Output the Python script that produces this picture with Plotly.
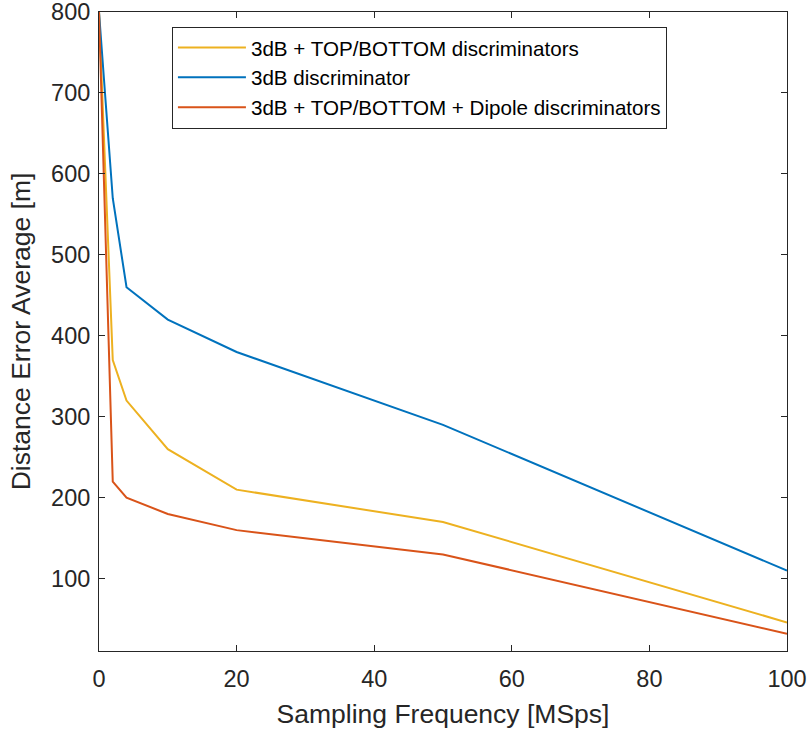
import plotly.graph_objects as go

freq = [0, 2, 4, 10, 20, 50, 100]
err_3db_tb = [800, 370, 320, 260, 210, 170, 46]
err_3db = [800, 570, 460, 420, 380, 290, 110]
err_3db_tb_dip = [800, 220, 200, 180, 160, 130, 32]

names = ["3dB + TOP/BOTTOM discriminators", "3dB discriminator",
         "3dB + TOP/BOTTOM + Dipole discriminators"]
colors = ["#EDB120", "#0072BD", "#D95319"]

fig = go.Figure()
for y, n, c in zip([err_3db_tb, err_3db, err_3db_tb_dip], names, colors):
    fig.add_trace(go.Scatter(x=freq, y=y, mode="lines", name=n,
                             line=dict(color=c, width=2)))

axcol = "#262626"
fig.update_layout(
    width=811, height=731,
    margin=dict(l=99, r=24, t=12, b=80),
    plot_bgcolor="white", paper_bgcolor="white",
    font=dict(family="Liberation Sans, Arial, sans-serif", color=axcol),
    legend=dict(x=0.106, y=0.977, xanchor="left", yanchor="top",
                bordercolor=axcol, borderwidth=1, bgcolor="white",
                font=dict(size=20.6, color="black"), itemwidth=68,
                tracegroupgap=0),
    showlegend=True,
)
fig.update_xaxes(range=[0, 100], tickvals=[0, 20, 40, 60, 80, 100],
                 showgrid=False, zeroline=False, showline=True, linecolor=axcol,
                 linewidth=1, mirror="ticks", ticks="inside", ticklen=6,
                 tickcolor=axcol, tickfont=dict(size=23.5), automargin=False,
                 ticklabelstandoff=7, ticklabeloverflow="allow",
                 title=dict(text="Sampling Frequency [MSps]", font=dict(size=26.5), standoff=13))
fig.update_yaxes(range=[10.7, 800], tickvals=[100, 200, 300, 400, 500, 600, 700, 800],
                 showgrid=False, zeroline=False, showline=True, linecolor=axcol,
                 linewidth=1, mirror="ticks", ticks="inside", ticklen=6,
                 tickcolor=axcol, tickfont=dict(size=23.5), automargin=False,
                 ticklabelstandoff=3, ticklabeloverflow="allow",
                 title=dict(text="Distance Error Average [m]", font=dict(size=26.5), standoff=12))

fig.write_html("out.html", config={"displayModeBar": False},
               post_script="document.body.style.margin='0';")
